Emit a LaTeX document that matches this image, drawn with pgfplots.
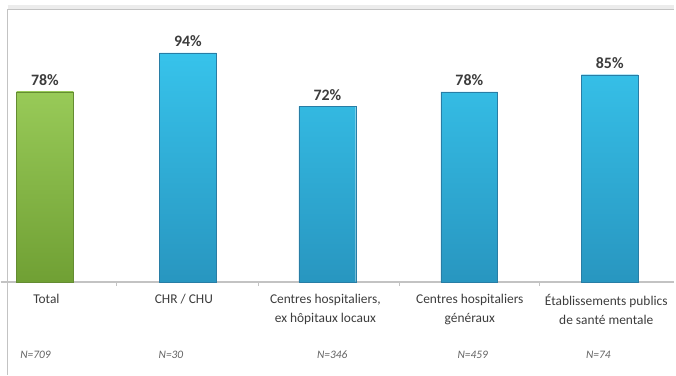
\documentclass[border=0pt]{standalone}
\usepackage{pgfplots}
\pgfplotsset{compat=1.18}
\usepackage{fontspec}
\setmainfont{Carlito}
\definecolor{gtop}{RGB}{152,202,88}
\definecolor{gbot}{RGB}{112,160,52}
\definecolor{gdraw}{RGB}{100,140,50}
\definecolor{btop}{RGB}{55,195,235}
\definecolor{bbot}{RGB}{40,150,192}
\definecolor{bdraw}{RGB}{40,125,165}
\definecolor{txt}{RGB}{60,60,60}
\definecolor{frame}{RGB}{195,195,195}
\begin{document}
\begin{tikzpicture}
\begin{axis}[
  scale only axis, width=676bp, height=376bp,
  xmin=0, xmax=676, ymin=-38.0, ymax=115.65,
  axis y line=none, axis x line=middle,
  axis line style={-, draw=frame, line width=1.2bp},
  xtick={116,258,400,541}, xticklabels={},
  tick align=outside, major tick length=4bp,
  xtick style={draw=frame},
  ytick=\empty,
  clip=false,
  /pgf/number format/assume math mode=true,
  ybar, bar width=57,
  nodes near coords={\pgfmathprintnumber{\pgfplotspointmeta}\%},
  nodes near coords style={font=\fontsize{16}{18}\selectfont\bfseries, text=txt, anchor=base, inner sep=0pt, yshift=6bp},
]
\path (rel axis cs:0,0) rectangle (rel axis cs:1,1);
\draw[draw=gray!15, line width=4bp] (axis cs:7,112.8) -- (axis cs:676,112.8);
\draw[draw=frame, line width=1.2bp] (axis cs:7,-38) -- (axis cs:7,111.6) -- (axis cs:676,111.6);
\addplot[bar shift=0pt, draw=gdraw, top color=gtop, bottom color=gbot] coordinates {(44.5,78)};
\addplot[bar shift=0pt, draw=bdraw, top color=btop, bottom color=bbot] coordinates {(188,94) (328,72) (470.5,78) (611.5,85)};
\begin{scope}[every node/.style={anchor=north, align=center, text=txt, inner sep=0pt, font=\fontsize{13.5}{19}\selectfont}]
\node at (axis cs:46,-5.0) {Total};
\node at (axis cs:184,-5.0) {CHR / CHU};
\node at (axis cs:326,-5.0) {Centres hospitaliers,\\ ex hôpitaux locaux};
\node at (axis cs:471,-5.0) {Centres hospitaliers\\ généraux};
\node at (axis cs:608,-5.0) {Établissements publics\\ de santé mentale};
\end{scope}
\begin{scope}[every node/.style={anchor=center, text=txt!80, inner sep=0pt, font=\fontsize{11.5}{13}\selectfont\itshape}]
\node at (axis cs:35,-29.8) {N=709};
\node at (axis cs:171,-29.8) {N=30};
\node at (axis cs:333,-29.8) {N=346};
\node at (axis cs:474,-29.8) {N=459};
\node at (axis cs:600,-29.8) {N=74};
\end{scope}
\end{axis}
\end{tikzpicture}
\end{document}
